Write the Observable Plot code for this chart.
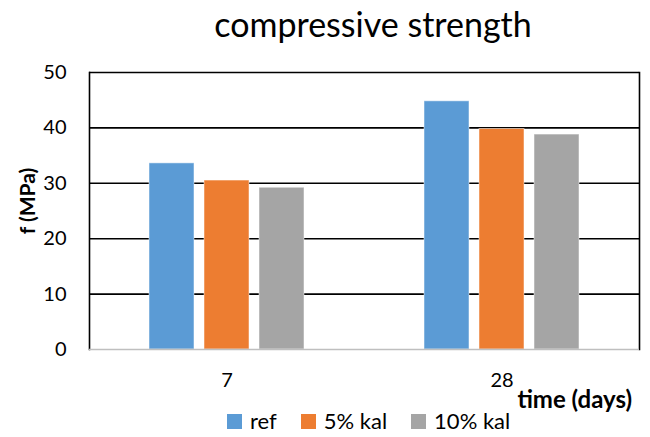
<!DOCTYPE html>
<html>
<head>
<meta charset="utf-8">
<script src="https://cdn.jsdelivr.net/npm/d3@7"></script>
<script src="https://cdn.jsdelivr.net/npm/@observablehq/plot@0.6"></script>
<style>
  html, body { margin: 0; padding: 0; background: #fff; }
  #wrap { position: relative; width: 650px; height: 437px; overflow: hidden; font-family: Lato, "Open Sans", sans-serif; color: #000; background: #fff; }
  #title { position: absolute; top: 4px; left: 96px; width: 554px; text-align: center; font-size: 34px; line-height: 1.2; }
  #chart { position: absolute; top: 50px; left: 0; }
  #ylabel { position: absolute; left: 27px; top: 201px; transform: translate(-50%, -50%) rotate(-90deg); white-space: nowrap; font-size: 21px; font-weight: bold; line-height: 24px; }
  #xlabel { position: absolute; top: 386px; right: 18px; font-size: 24px; font-weight: bold; line-height: 26px; }
  #legend { position: absolute; top: 408px; left: 227px; display: flex; align-items: center; font-size: 22px; line-height: 26px; height: 26px; }
  #legend .item { display: flex; align-items: center; margin-right: 24px; }
  #legend .sw { width: 15px; height: 15px; margin-right: 8px; }
</style>
</head>
<body>
<div id="wrap">
  <div id="title">compressive strength</div>
  <div id="chart"></div>
  <div id="ylabel">f (MPa)</div>
  <div id="xlabel">time (days)</div>
  <div id="legend"></div>
</div>
<script>
const days = ["7", "28"];
const series = ["ref", "5% kal", "10% kal"];
const refValues = [33.6, 44.8];
const kal5Values = [30.5, 39.8];
const kal10Values = [29.2, 38.8];
const yTicks = [0, 10, 20, 30, 40, 50];
const colors = ["#5B9BD5", "#ED7D31", "#A5A5A5"];

const seriesValues = [refValues, kal5Values, kal10Values];
const data = [];
days.forEach((d, i) => series.forEach((s, j) => data.push({day: d, series: s, value: seriesValues[j][i]})));

const chart = Plot.plot({
  width: 650,
  height: 350,
  marginLeft: 88,
  marginRight: 11,
  marginTop: 22,
  marginBottom: 51,
  style: {fontFamily: "Lato, 'Open Sans', sans-serif", fontSize: "20px", color: "#000", background: "transparent"},
  fx: {domain: days, padding: 0, label: null, tickSize: 0, tickPadding: 23},
  x: {domain: series, paddingInner: 0.18, paddingOuter: 1.05, axis: null},
  y: {domain: [0, 50], ticks: yTicks, tickSize: 0, tickPadding: 23, label: null},
  color: {domain: series, range: colors},
  marks: [
    Plot.ruleY(yTicks.filter(t => t > 0), {stroke: "#000", strokeWidth: 1.6}),
    Plot.frame({anchor: "left", facetAnchor: "left", stroke: "#000", strokeWidth: 1.6}),
    Plot.frame({anchor: "right", facetAnchor: "right", stroke: "#000", strokeWidth: 1.6}),
    Plot.barY(data, {fx: "day", x: "series", y: "value", fill: "series", stroke: "white", strokeOpacity: 0.5, strokeWidth: 1}),
    Plot.ruleY([0], {stroke: "#BFBFBF", strokeWidth: 1.6})
  ]
});
document.getElementById("chart").appendChild(chart);

const legend = document.getElementById("legend");
series.forEach((s, i) => {
  const item = document.createElement("div");
  item.className = "item";
  const sw = document.createElement("div");
  sw.className = "sw";
  sw.style.background = colors[i];
  const label = document.createElement("span");
  label.textContent = s;
  item.appendChild(sw);
  item.appendChild(label);
  legend.appendChild(item);
});
</script>
</body>
</html>
